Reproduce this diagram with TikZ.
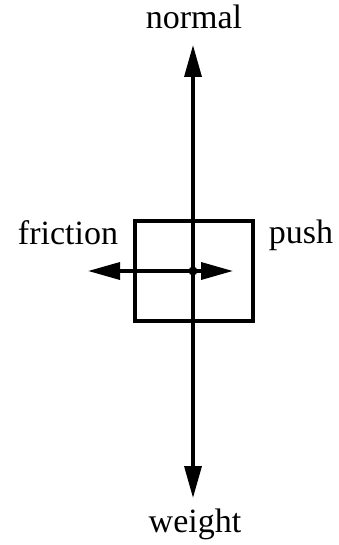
\documentclass[tikz,border=0pt]{standalone}
\usepackage{fontspec}
\setmainfont{Liberation Serif}
\usetikzlibrary{arrows.meta}
\begin{document}
\begin{tikzpicture}[x=1pt,y=-1pt,
  force/.style={line width=3.4pt,-{Triangle[length=32pt,width=17pt]}},
  lbl/.style={inner sep=0pt,font=\fontsize{34}{40}\selectfont,anchor=base},
  block/.style={draw,line width=3.2pt,minimum width=118pt,minimum height=100pt,inner sep=0pt}]
\useasboundingbox (0,0) rectangle (339,545);
\node[block] (box) at (194,271) {};
\coordinate (c) at (193,271);
\coordinate (ntip) at (193,45);
\coordinate (wtip) at (193,498);
\coordinate (ftip) at (88,271);
\coordinate (ptip) at (233,271);
\draw[force] (c) -- (ntip);
\draw[force] (c) -- (wtip);
\draw[force] (c) -- (ftip);
\draw[force] (c) -- (ptip);
\fill (c) circle (4.5pt);
\node[lbl] (normal) at (194,29) {normal};
\node[lbl] (friction) at (68,244) {friction};
\node[lbl] (push) at (301,243) {push};
\node[lbl] (weight) at (195,532) {weight};
\end{tikzpicture}
\end{document}
